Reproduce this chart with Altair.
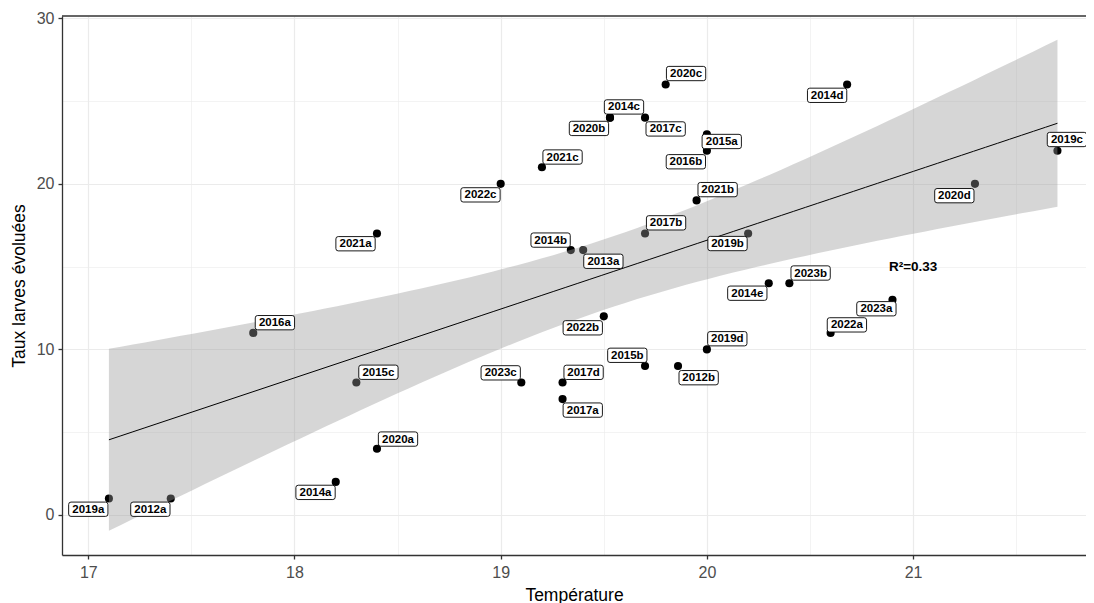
import math
import numpy as np
import pandas as pd
import altair as alt

# ---- data ----
labels = ["2019a", "2012a", "2016a", "2015c", "2014a", "2020a", "2021a", "2022c",
          "2021c", "2014b", "2013a", "2020b", "2014c", "2017c", "2020c", "2015a",
          "2016b", "2021b", "2017b", "2019b", "2014d", "2019c", "2020d", "2014e",
          "2023b", "2023a", "2022a", "2022b", "2019d", "2015b", "2012b", "2023c",
          "2017d", "2017a"]
temperature = [17.1, 17.4, 17.8, 18.3, 18.2, 18.4, 18.4, 19.0,
               19.2, 19.34, 19.4, 19.53, 19.53, 19.7, 19.8, 20.0,
               20.0, 19.95, 19.7, 20.2, 20.68, 21.7, 21.3, 20.3,
               20.4, 20.9, 20.6, 19.5, 20.0, 19.7, 19.86, 19.1,
               19.3, 19.3]
taux = [1, 1, 11, 8, 2, 4, 17, 20,
        21, 16, 16, 24, 24, 24, 26, 23,
        22, 19, 17, 17, 26, 22, 20, 14,
        14, 13, 11, 12, 10, 9, 9, 8,
        8, 7]
# label offsets (repel placement) in data units
label_dx = [-0.100, -0.099, 0.105, 0.107, -0.098, 0.102, -0.104, -0.098,
            0.100, -0.098, 0.098, -0.102, 0.068, 0.100, 0.099, 0.072,
            -0.102, 0.102, 0.102, -0.100, -0.097, 0.046, -0.100, -0.104,
            0.103, -0.078, 0.079, -0.102, 0.099, -0.086, 0.100, -0.100,
            0.102, 0.098]
label_dy = [-0.652, -0.652, 0.616, 0.622, -0.634, 0.586, -0.616, -0.664,
            0.622, 0.604, -0.676, -0.652, 0.646, -0.682, 0.664, -0.440,
            -0.664, 0.652, 0.646, -0.604, -0.652, 0.680, -0.713, -0.604,
            0.616, -0.543, 0.483, -0.694, 0.646, 0.646, -0.707, 0.586,
            0.616, -0.664]

x_major = [17, 18, 19, 20, 21]
x_minor = [17.5, 18.5, 19.5, 20.5, 21.5]
y_major = [0, 10, 20, 30]
y_minor = [5, 15, 25]

r2_text = ["R²=0.33"]
r2_x = [21.0]
r2_y = [15.0]

x_domain = [16.8725, 21.8385]
y_domain = [-2.416, 30.139]

# ---- linear model with 95% confidence band (geom_smooth(method="lm")) ----
X = np.array(temperature, dtype=float)
Y = np.array(taux, dtype=float)
n = len(X)
b1, b0 = np.polyfit(X, Y, 1)
resid = Y - (b0 + b1 * X)
dof = n - 2
s = math.sqrt(np.sum(resid ** 2) / dof)
xbar = X.mean()
sxx = np.sum((X - xbar) ** 2)


def t_quantile(p, v):
    c = math.gamma((v + 1) / 2) / (math.sqrt(v * math.pi) * math.gamma(v / 2))

    def cdf(t):
        g = np.linspace(0, t, 4001)
        f = c * (1 + g ** 2 / v) ** (-(v + 1) / 2)
        return 0.5 + np.trapezoid(f, g)

    lo, hi = 0.0, 10.0
    for _ in range(60):
        mid = (lo + hi) / 2
        if cdf(mid) < p:
            lo = mid
        else:
            hi = mid
    return (lo + hi) / 2


tq = t_quantile(0.975, dof)
gx = np.linspace(X.min(), X.max(), 80)
fit = b0 + b1 * gx
se = s * np.sqrt(1 / n + (gx - xbar) ** 2 / sxx)
band = pd.DataFrame({"x": gx, "fit": fit, "lo": fit - tq * se, "hi": fit + tq * se})

pts = pd.DataFrame({"label": labels, "temperature": temperature, "taux": taux,
                    "dx": label_dx, "dy": label_dy})
pts["lx"] = pts["temperature"] + pts["dx"]
pts["ly"] = pts["taux"] + pts["dy"]

r2 = pd.DataFrame({"text": r2_text, "x": r2_x, "y": r2_y})

W, H = 1024, 539
FONT = "Liberation Sans"

xs = alt.Scale(domain=x_domain, nice=False, zero=False)
ys = alt.Scale(domain=y_domain, nice=False, zero=False)

x_axis = alt.Axis(
    values=sorted(x_major + x_minor),
    labelExpr="datum.value % 1 === 0 ? format(datum.value, 'd') : ''",
    gridWidth={"condition": {"test": "datum.value % 1 !== 0", "value": 0.6}, "value": 1.2},
    tickOpacity={"condition": {"test": "datum.value % 1 !== 0", "value": 0}, "value": 1},
    title="Température",
)
y_axis = alt.Axis(
    values=sorted(y_major + y_minor),
    labelExpr="datum.value % 10 === 0 ? format(datum.value, 'd') : ''",
    gridWidth={"condition": {"test": "datum.value % 10 !== 0", "value": 0.6}, "value": 1.2},
    tickOpacity={"condition": {"test": "datum.value % 10 !== 0", "value": 0}, "value": 1},
    title="Taux larves évoluées",
)


def ex(field):
    return alt.X(field, scale=xs, axis=x_axis, title="Température")


def ey(field):
    return alt.Y(field, scale=ys, axis=y_axis, title="Taux larves évoluées")


points = alt.Chart(pts).mark_circle(size=66, color="#000000", opacity=1).encode(
    x=ex("temperature:Q"),
    y=ey("taux:Q"),
)

ribbon = alt.Chart(band).mark_area(color="#999999", opacity=0.4).encode(
    x=ex("x:Q"),
    y=ey("lo:Q"),
    y2="hi:Q",
)

line = alt.Chart(band).mark_line(color="#000000", strokeWidth=1).encode(
    x=ex("x:Q"),
    y=ey("fit:Q"),
)

box_path = ("M -0.88,-0.364 L 0.88,-0.364 Q 1,-0.364 1,-0.244 L 1,0.244 "
            "Q 1,0.364 0.88,0.364 L -0.88,0.364 Q -1,0.364 -1,0.244 "
            "L -1,-0.244 Q -1,-0.364 -0.88,-0.364 Z")

boxes = alt.Chart(pts).mark_point(
    shape=box_path, size=1544, filled=True, fill="#ffffff", stroke="#000000",
    strokeWidth=0.9, opacity=1,
).encode(
    x=ex("lx:Q"),
    y=ey("ly:Q"),
)

texts = alt.Chart(pts).mark_text(
    font=FONT, fontSize=11.5, fontWeight="bold", color="#000000",
    align="center", baseline="middle", dy=0.5,
).encode(
    x=ex("lx:Q"),
    y=ey("ly:Q"),
    text="label:N",
)

r2_mark = alt.Chart(r2).mark_text(
    font=FONT, fontSize=13.5, fontWeight="bold", color="#000000",
    align="center", baseline="middle",
).encode(
    x=ex("x:Q"),
    y=ey("y:Q"),
    text="text:N",
)

top_border = alt.Chart(r2).mark_rule(color="#333333", strokeWidth=1.3).encode(
    x=alt.value(0), x2=alt.value(W), y=alt.value(0),
)

chart = alt.layer(points, ribbon, line, boxes, texts, r2_mark, top_border).properties(
    width=W, height=H,
    autosize=alt.AutoSizeParams(type="none"),
    padding={"left": 54, "top": 8, "right": 0, "bottom": 48},
).configure_view(stroke=None).configure_axis(
    domainColor="#333333", domainWidth=1.3,
    tickColor="#333333", tickWidth=1.3, tickSize=4,
    labelColor="#4D4D4D", labelFontSize=16, labelFont=FONT,
    titleColor="#000000", titleFontSize=17.5, titleFont=FONT, titleFontWeight="normal",
    gridColor="#EBEBEB",
).configure_axisX(labelPadding=5, titlePadding=6).configure_axisY(labelPadding=4, titlePadding=8)

chart.save("out.html", embed_options={"renderer": "svg", "actions": False})
